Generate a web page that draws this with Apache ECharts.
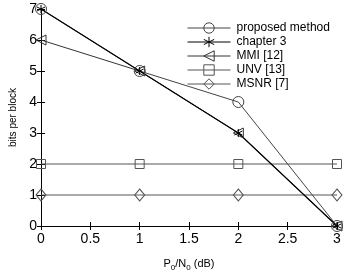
<!DOCTYPE html>
<html>
<head>
<meta charset="utf-8">
<script src="https://cdn.jsdelivr.net/npm/echarts@6/dist/echarts.min.js"></script>
<style>
  html, body { margin: 0; padding: 0; background: #fff; }
  #chart { width: 346px; height: 277px; }
</style>
</head>
<body>
<div id="chart"></div>
<script>
var snr = [0, 1, 2, 3]
var proposed = [7, 5, 4, 0]
var chapter3 = [7, 5, 3, 0]
var mmi = [6, 5, 3, 0]
var unv = [2, 2, 2, 2]
var msnr = [1, 1, 1, 1]
var names = ['proposed method', 'chapter 3', 'MMI [12]', 'UNV [13]', 'MSNR [7]']

var FONT = 'Liberation Sans, Arial, sans-serif'
var STAR = 'path://M0,-10L0,10M-8.7,-5L8.7,5M-8.7,5L8.7,-5'
var TRI_LEFT = 'path://M-10,0L10,-9L10,9Z'

function pairs (ys) {
  return ys.map(function (y, i) { return [snr[i], y] })
}

function line (name, ys, symbol, size, color, width) {
  return {
    name: name,
    type: 'line',
    data: pairs(ys),
    symbol: symbol,
    symbolSize: size,
    showAllSymbol: true,
    lineStyle: { color: color, width: width },
    itemStyle: { color: 'rgba(255,255,255,0)', borderColor: color, borderWidth: 1 },
    emphasis: { disabled: true },
    animation: false,
    z: 2
  }
}

function axisBase (extra) {
  var a = {
    axisLine: { show: true, lineStyle: { color: '#000', width: 1 } },
    axisTick: { show: true, inside: true, length: 4, lineStyle: { color: '#000' } },
    splitLine: { show: false }
  }
  for (var k in extra) a[k] = extra[k]
  return a
}

var chart = echarts.init(document.getElementById('chart'), null, { renderer: 'canvas' })

chart.setOption({
  backgroundColor: '#fff',
  animation: false,
  textStyle: { fontFamily: FONT },
  grid: { left: 31, right: 9, top: 9, bottom: 39 },
  legend: {
    data: names,
    orient: 'vertical',
    left: 182,
    top: 17,
    itemWidth: 43,
    itemHeight: 13,
    itemGap: 2,
    lineStyle: { width: 1 },
    itemStyle: { borderWidth: 1 },
    textStyle: { fontFamily: FONT, fontSize: 12, color: '#000', padding: [0, 0, 0, 1] },
    inactiveColor: '#000'
  },
  xAxis: [
    axisBase({
      type: 'value', min: 0, max: 3, interval: 0.5,
      name: '{n|P}{s|0}{n|/N}{s|0}{n| (dB)}',
      nameLocation: 'middle', nameGap: 30,
      nameTextStyle: {
        rich: {
          n: { fontFamily: FONT, fontSize: 11, color: '#000' },
          s: { fontFamily: FONT, fontSize: 8, color: '#000', verticalAlign: 'bottom', padding: [8, 0, 0, 0] }
        }
      },
      axisLabel: { fontFamily: FONT, fontSize: 14, color: '#000', margin: 6 }
    }),
    axisBase({
      type: 'value', min: 0, max: 3, interval: 0.5, position: 'top',
      axisLabel: { show: false }
    })
  ],
  yAxis: [
    axisBase({
      type: 'value', min: 0, max: 7, interval: 1,
      name: 'bits per block',
      nameLocation: 'middle', nameGap: 23,
      nameTextStyle: { fontFamily: FONT, fontSize: 10, color: '#000' },
      axisLabel: { fontFamily: FONT, fontSize: 14, color: '#000', margin: 4 }
    }),
    axisBase({
      type: 'value', min: 0, max: 7, interval: 1, position: 'right',
      axisLabel: { show: false }
    })
  ],
  series: [
    line(names[3], unv, 'rect', 9, '#555', 1),
    line(names[4], msnr, 'diamond', [10, 12], '#555', 1),
    line(names[2], mmi, TRI_LEFT, [10, 10], '#333', 1),
    line(names[0], proposed, 'circle', 11, '#444', 1),
    line(names[1], chapter3, STAR, 8, '#000', 1.2)
  ]
})
</script>
</body>
</html>
